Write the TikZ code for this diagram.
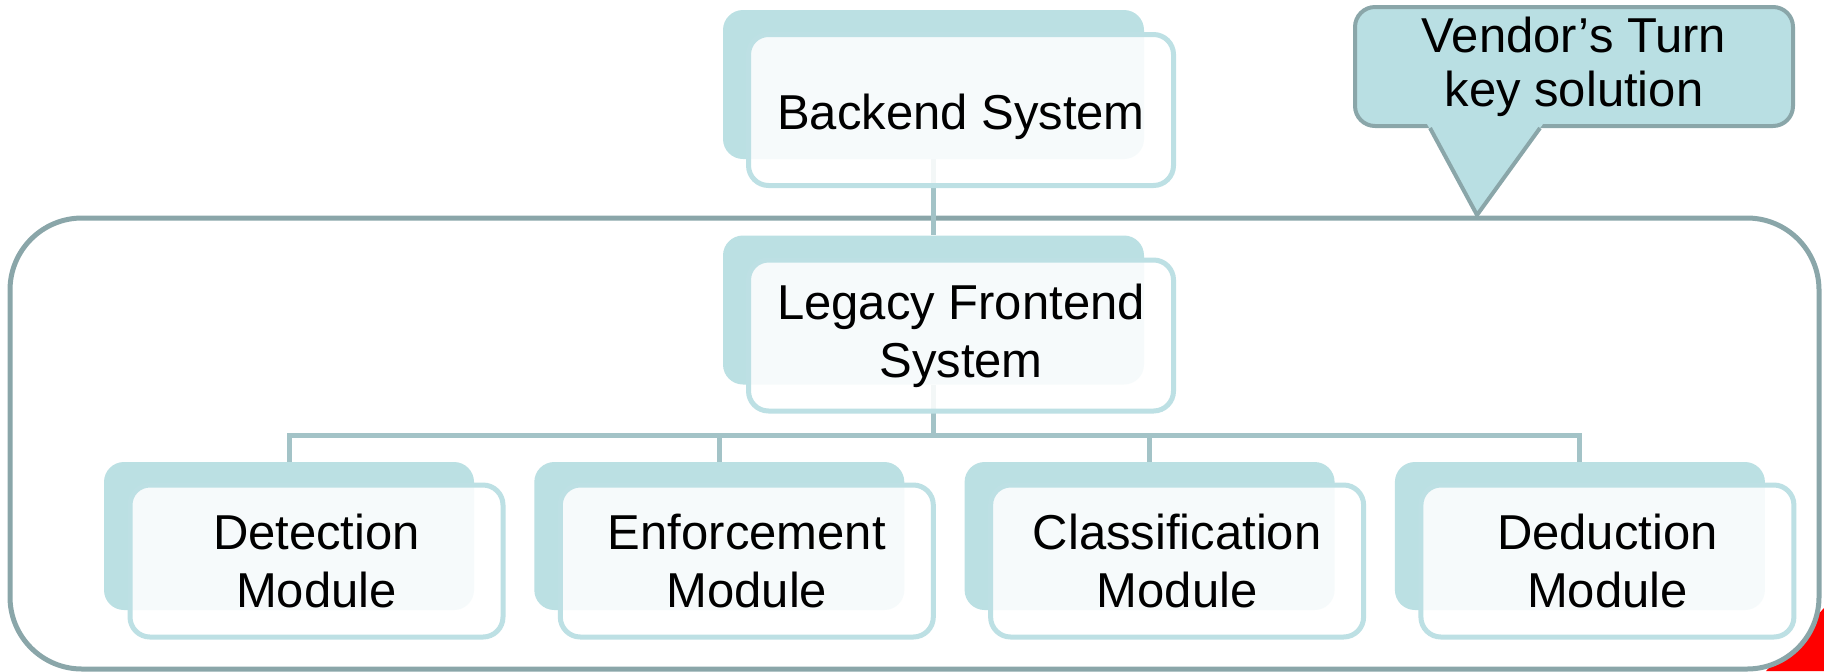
\documentclass[tikz,border=0pt]{standalone}
\usepackage{fontspec}
\setmainfont{Liberation Sans}
\usetikzlibrary{positioning, calc}

\definecolor{boxback}{RGB}{187,224,227}
\definecolor{boxline}{RGB}{189,224,228}
\definecolor{linkcol}{RGB}{163,195,199}
\definecolor{framecol}{RGB}{138,166,169}
\definecolor{calloutfill}{RGB}{185,223,227}
\definecolor{cornerred}{RGB}{255,0,0}

\pgfdeclarelayer{bg}
\pgfsetlayers{bg,main}

\begin{document}
\begin{tikzpicture}[x=0.5pt, y=-0.5pt,
every node/.style={font=\fontsize{24.5}{29}\selectfont, align=center},
backbox/.style={fill=boxback, rounded corners=10pt, minimum width=185pt, minimum height=74pt},
frontbox/.style={draw=boxline, line width=2.5pt, fill=white, fill opacity=0.87, text opacity=1,
  rounded corners=10pt, minimum width=186.5pt, minimum height=76pt},
widebox/.style={minimum width=210.5pt, minimum height=74.5pt},
widefront/.style={minimum width=212.5pt, minimum height=75.5pt},
link/.style={draw=linkcol, line width=2.5pt},
frame/.style={draw=framecol, line width=2.5pt, fill=white, rounded corners=36pt},
vendorbox/.style={draw=framecol, line width=2pt, fill=calloutfill, rounded corners=10pt,
  minimum width=219pt, minimum height=59.5pt, font=\fontsize{24.5}{27}\selectfont}]
    \useasboundingbox (0,0) rectangle (1824,671);

    % outer frame with the red corner behind it
    \begin{pgfonlayer}{bg}
    \fill[cornerred] (1824,608) -- (1824,671) -- (1766,671) -- cycle;
    \draw[frame] (10,218) rectangle (1819,669);
    \end{pgfonlayer}

    \node[backbox, widebox] (backend-bg) at (933.5,84.5) {};
    \node[frontbox, widefront, text height=25pt] (backend) at ($(backend-bg)+(27.5,25.5)$) {Backend System};

    \node[backbox, widebox] (legacy-bg) at (933.5,310) {};
    \node[frontbox, widefront] (legacy) at ($(legacy-bg)+(27.5,25.5)$) {Legacy Frontend\\System};

    \foreach \m/\txt [count=\i from 0] in {det/{Detection\\Module}, enf/{Enforcement\\Module},
        cls/{Classification\\Module}, ded/{Deduction\\Module}} {
        \node[backbox] (\m-bg) at ({289+430.3*\i},536) {};
        \node[frontbox] (\m) at ($(\m-bg)+(27.5,25)$) {\txt};
    }

    \coordinate (bus) at ($(legacy-bg.south)+(0,51)$);
    \begin{pgfonlayer}{bg}
    \draw[link] (backend-bg.south) -- (legacy-bg.north);
    \draw[link] (legacy-bg.south) -- (bus);
    \foreach \m in {det,enf,cls,ded}
        \draw[link] (bus) -| (\m-bg.north);
    \end{pgfonlayer}

    % callout
    \node[vendorbox] (vendor) at (1574,66.5) {Vendor's Turn\\key solution};
    \coordinate (tip) at (1477,215);
    \fill[calloutfill] ($(vendor.south)+(-147,-4)$) -- (tip) -- ($(vendor.south)+(-31,-4)$) -- cycle;
    \draw[draw=framecol, line width=2pt, line join=round]
        ($(vendor.south)+(-144,0)$) -- (tip) -- ($(vendor.south)+(-34,0)$);
\end{tikzpicture}
\end{document}
